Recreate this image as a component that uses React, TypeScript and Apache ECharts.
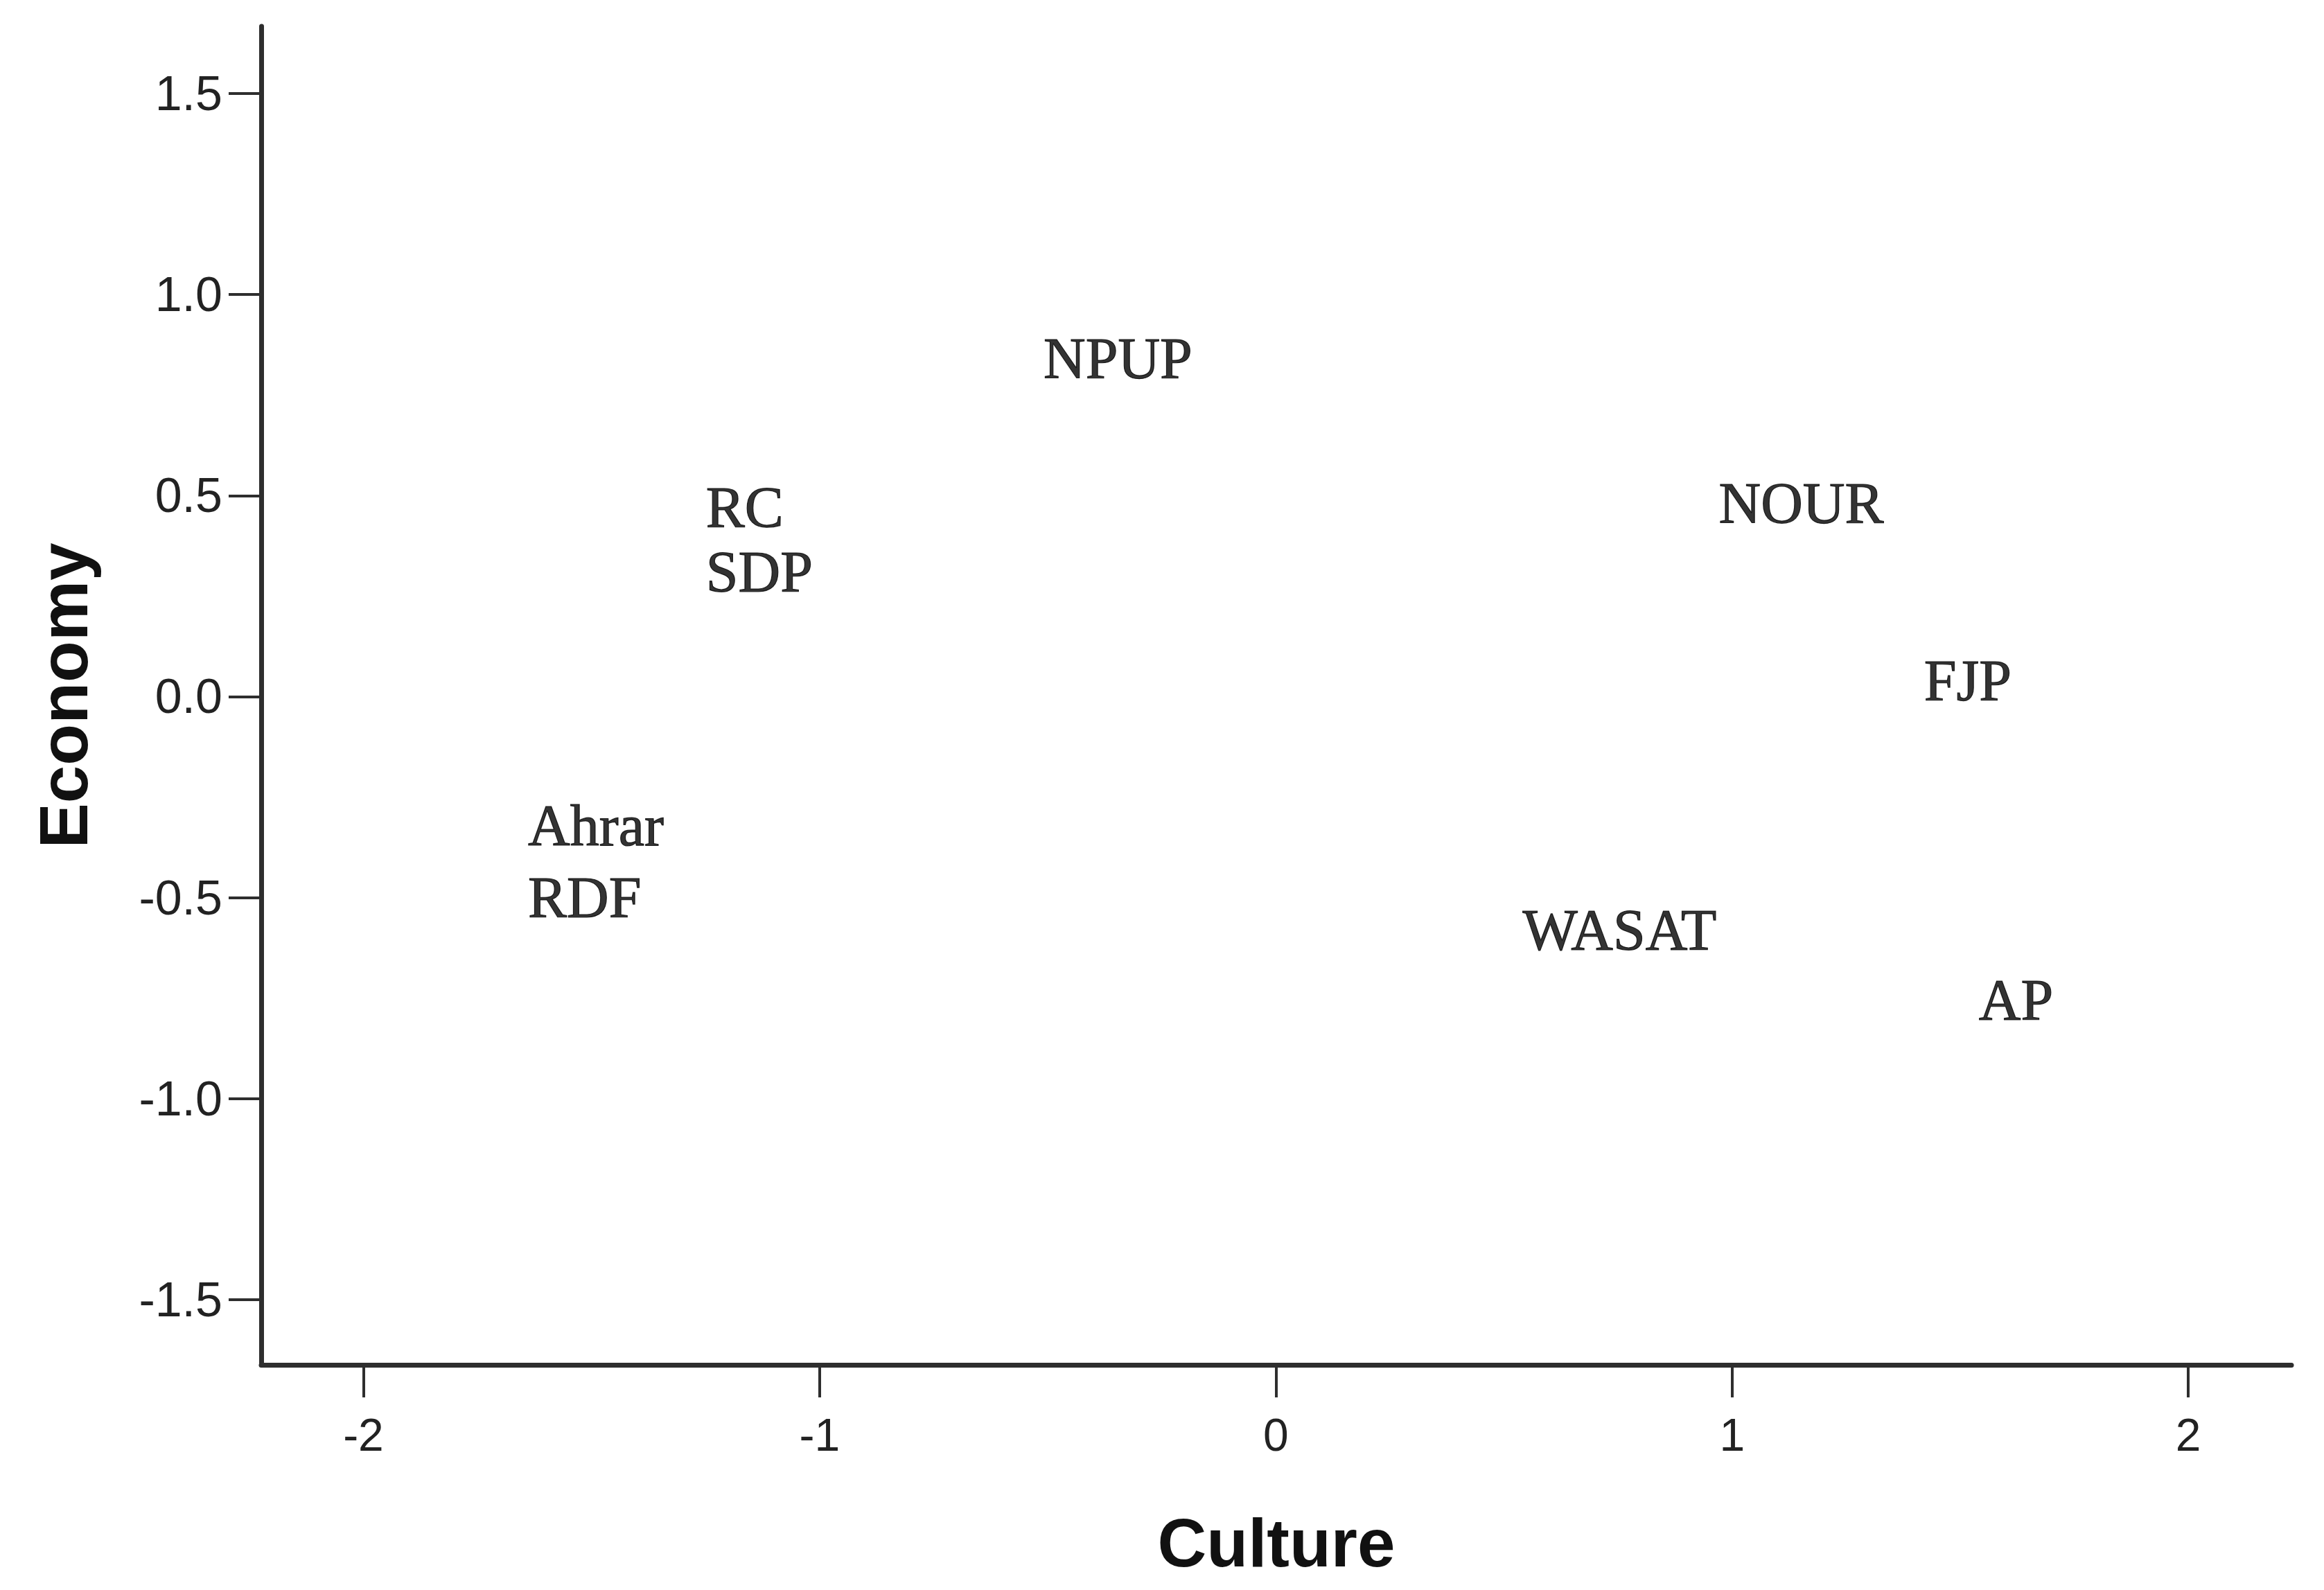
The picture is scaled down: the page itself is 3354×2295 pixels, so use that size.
import React, { useEffect, useRef } from "react";
import * as echarts from "echarts";

const parties = ["NPUP", "RC", "SDP", "NOUR", "FJP", "Ahrar", "RDF", "WASAT", "AP"];
const culture = [-0.51, -1.25, -1.25, 0.97, 1.42, -1.64, -1.64, 0.54, 1.54];
const economy = [0.84, 0.47, 0.31, 0.48, 0.04, -0.32, -0.5, -0.58, -0.755];
const xTicks = [-2, -1, 0, 1, 2];
const yTicks = [-1.5, -1.0, -0.5, 0.0, 0.5, 1.0, 1.5];

export default function App() {
  const ref = useRef<HTMLDivElement>(null);
  useEffect(() => {
    if (!ref.current) return;
    const chart = echarts.init(ref.current, undefined, { renderer: "svg" });
    const axisLine = {
      show: true,
      onZero: false,
      lineStyle: { color: "#2e2e2e", width: 7 },
    };
    const tickStyle = { color: "#2e2e2e", width: 4 };
    chart.setOption({
      animation: false,
      backgroundColor: "#ffffff",
      grid: { left: 377, right: 47, top: 38, bottom: 325, containLabel: false },
      xAxis: {
        type: "value",
        min: -2.224,
        max: 2.226,
        name: "Culture",
        nameLocation: "middle",
        nameGap: 208,
        nameTextStyle: { fontFamily: "Liberation Sans", fontWeight: "bold", fontSize: 98, color: "#111" },
        axisLine,
        axisTick: { show: true, length: 47, lineStyle: tickStyle, customValues: xTicks },
        axisLabel: {
          customValues: xTicks,
          margin: 68,
          fontSize: 66,
          fontFamily: "Liberation Sans",
          color: "#222",
          formatter: (v: number) => String(v),
        },
        splitLine: { show: false },
      },
      yAxis: {
        type: "value",
        min: -1.662,
        max: 1.667,
        name: "Economy",
        nameLocation: "middle",
        nameGap: 236,
        nameTextStyle: { fontFamily: "Liberation Sans", fontWeight: "bold", fontSize: 98, color: "#111" },
        axisLine,
        axisTick: { show: true, length: 47, lineStyle: tickStyle, customValues: yTicks },
        axisLabel: {
          customValues: yTicks,
          margin: 56,
          fontSize: 70,
          fontFamily: "Liberation Sans",
          color: "#222",
          formatter: (v: number) => v.toFixed(1),
        },
        splitLine: { show: false },
      },
      series: [
        {
          type: "scatter",
          symbolSize: 1,
          itemStyle: { color: "rgba(0,0,0,0)" },
          data: parties.map((n, i) => ({ name: n, value: [culture[i], economy[i]] })),
          label: {
            show: true,
            position: "right",
            distance: 0,
            formatter: "{b}",
            fontFamily: "Liberation Serif",
            fontSize: 84,
            color: "#000",
            textBorderColor: "#000",
            textBorderWidth: 1.2,
          },
        },
      ],
    });
    return () => chart.dispose();
  }, []);
  return (
    <div
      ref={ref}
      style={{ position: "absolute", left: 0, top: 0, width: 3354, height: 2295, background: "#fff" }}
    />
  );
}
